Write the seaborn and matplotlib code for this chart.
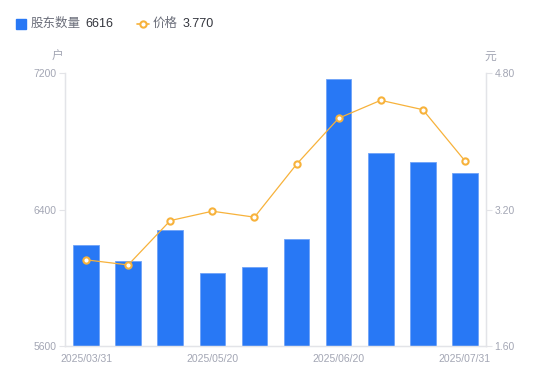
import numpy as np
import pandas as pd
import matplotlib
matplotlib.use("Agg")
import matplotlib.pyplot as plt
import seaborn as sns
from matplotlib.lines import Line2D

# data
dates = ["2025/03/31", "2025/04/10", "2025/04/30", "2025/05/20", "2025/05/31",
         "2025/06/10", "2025/06/20", "2025/06/30", "2025/07/20", "2025/07/31"]
holders = [6192, 6098, 6280, 6028, 6063, 6227, 7165, 6731, 6678, 6616]
price = [2.61, 2.55, 3.07, 3.18, 3.11, 3.73, 4.27, 4.48, 4.37, 3.77]
shown_labels = ["2025/03/31", "2025/05/20", "2025/06/20", "2025/07/31"]

df = pd.DataFrame({"date": dates, "holders": holders, "price": price})
df["pos"] = np.arange(len(df))

sns.set_style("white")
plt.rcParams["font.family"] = ["Liberation Sans", "Noto Sans CJK SC", "DejaVu Sans"]

blue = "#2878F5"
orange = "#F7B23B"
grey_txt = "#A3A6B4"
axis_col = "#E3E4E8"

fig = plt.figure(figsize=(5.5, 3.81), dpi=100)
ax = fig.add_axes([65 / 550, 35 / 381, 421 / 550, 273 / 381])

sns.barplot(data=df, x="date", y="holders", color=blue, width=0.61,
            saturation=1, edgecolor="#6FA3F8", linewidth=0.6, ax=ax)
ax.set_ylim(5600, 7200)
ax.set_yticks([5600, 6400, 7200])
ax.set_xlabel("")
ax.set_ylabel("")
ax.set_xticks([dates.index(d) for d in shown_labels])
ax.set_xticklabels(shown_labels)
ax.tick_params(axis="x", length=0, pad=6, labelsize=7.5, labelcolor=grey_txt)
ax.tick_params(axis="y", length=4, width=0.8, color=axis_col, pad=2,
               labelsize=7.5, labelcolor=grey_txt)

ax2 = ax.twinx()
sns.lineplot(data=df, x="pos", y="price", color=orange, linewidth=0.9,
             marker="o", markersize=4.5, markerfacecolor="white",
             markeredgecolor=orange, markeredgewidth=1.5, ax=ax2)
ax2.set_ylim(1.6, 4.8)
ax2.set_yticks([1.6, 3.2, 4.8])
ax2.set_yticklabels(["1.60", "3.20", "4.80"])
ax2.set_ylabel("")
ax2.set_xlabel("")
ax2.tick_params(axis="y", length=4, width=0.8, color=axis_col, pad=2,
                labelsize=7.5, labelcolor=grey_txt)
ax.set_xlim(-0.5, len(dates) - 0.5)

for a in (ax, ax2):
    a.spines["top"].set_visible(False)
    for side in ("left", "right", "bottom"):
        a.spines[side].set_color(axis_col)
        a.spines[side].set_linewidth(0.9)

# unit labels
fig.text(58 / 550, 1 - 57 / 381, "户", ha="center", va="center", fontsize=8.5, color=grey_txt)
fig.text(490 / 550, 1 - 57 / 381, "元", ha="center", va="center", fontsize=8.5, color=grey_txt)

# legend row at top
ly = 1 - 24 / 381
fig.add_artist(Line2D([21 / 550], [ly], marker="s", markersize=6.5, color=blue,
                      linestyle="none", transform=fig.transFigure))
fig.text(31 / 550, ly, "股东数量", ha="left", va="center", fontsize=9, color="#6B6E7A")
fig.text(85 / 550, ly, str(holders[-1]), ha="left", va="center", fontsize=9, color="#33353D")
fig.add_artist(Line2D([137 / 550, 149 / 550], [ly, ly], color=orange, linewidth=1.2,
                      transform=fig.transFigure))
fig.add_artist(Line2D([143 / 550], [ly], marker="o", markersize=4.5, markerfacecolor="white",
                      markeredgecolor=orange, markeredgewidth=1.5, linestyle="none",
                      transform=fig.transFigure))
fig.text(153 / 550, ly, "价格", ha="left", va="center", fontsize=9, color="#6B6E7A")
fig.text(183 / 550, ly, "%.3f" % price[-1], ha="left", va="center", fontsize=9, color="#33353D")

fig.savefig("out.png", dpi=100)
